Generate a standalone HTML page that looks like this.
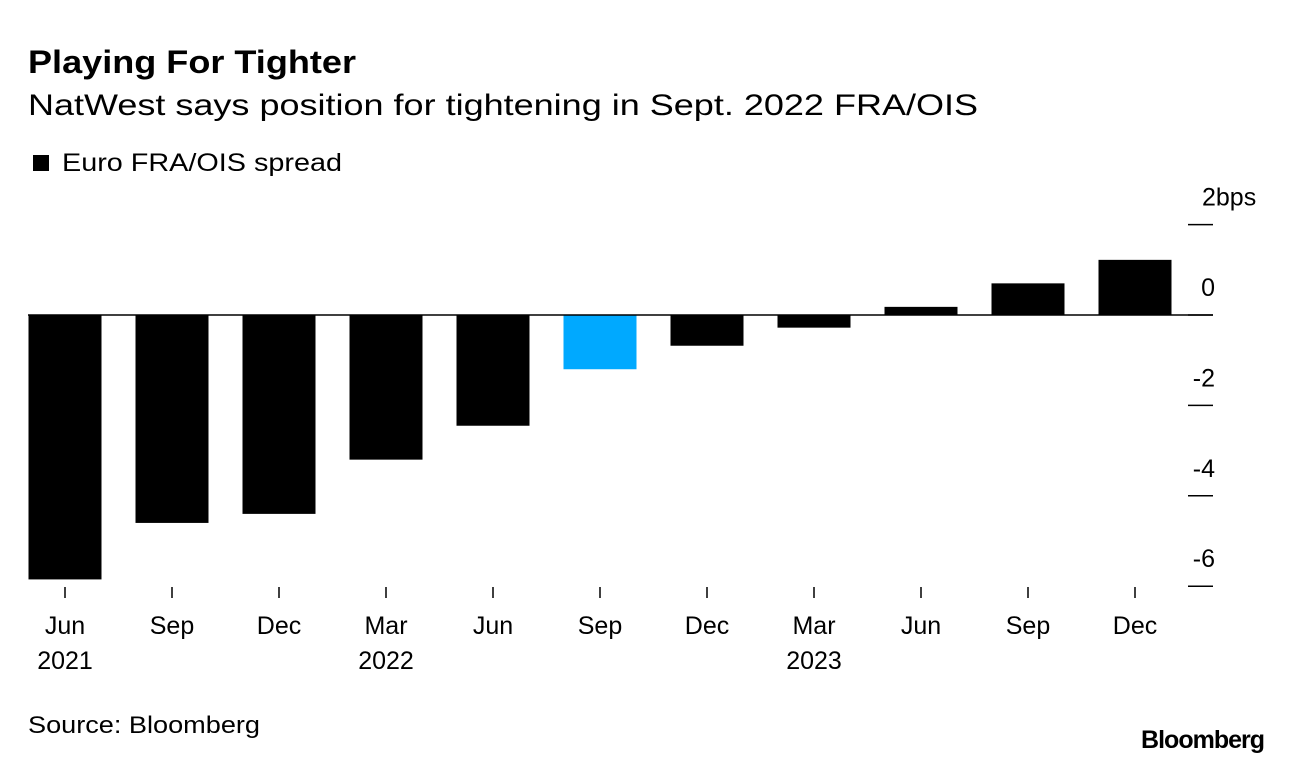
<!DOCTYPE html>
<html><head><meta charset="utf-8"><style>
body{margin:0;background:#fff;width:1292px;height:764px;overflow:hidden;font-family:"Liberation Sans",sans-serif}
</style></head><body>
<svg width="1292" height="764" font-family="Liberation Sans, sans-serif">
<text x="28" y="73" font-size="32" font-weight="bold" fill="#000" textLength="328" lengthAdjust="spacingAndGlyphs">Playing For Tighter</text>
<text x="28" y="115" font-size="30" fill="#000" textLength="950" lengthAdjust="spacingAndGlyphs">NatWest says position for tightening in Sept. 2022 FRA/OIS</text>
<rect x="33" y="155" width="16" height="16" fill="#000"/>
<text x="62" y="171" font-size="25" fill="#000" textLength="280" lengthAdjust="spacingAndGlyphs">Euro FRA/OIS spread</text>
<g id="bars"></g><g id="yaxis"></g><g id="xaxis"></g>
<text x="28" y="733" font-size="24" fill="#000" textLength="232" lengthAdjust="spacingAndGlyphs">Source: Bloomberg</text>
<text x="1264" y="748" font-size="25" font-weight="bold" text-anchor="end" fill="#000" letter-spacing="-1">Bloomberg</text>
</svg>
<script>
const categories=["Jun","Sep","Dec","Mar","Jun","Sep","Dec","Mar","Jun","Sep","Dec"];
const years=["2021","","","2022","","","","2023","","",""];
const values=[-5.85,-4.6,-4.4,-3.2,-2.45,-1.2,-0.68,-0.28,0.18,0.7,1.22];
const highlight=[false,false,false,false,false,true,false,false,false,false,false];
const yTicks=[2,0,-2,-4,-6];
const yLabels=["2bps","0","-2","-4","-6"];
const ns="http://www.w3.org/2000/svg";
const y0=315,unit=45.2;
const y=v=>y0-v*unit;
const x=i=>65+i*107;
const bw=73;
function mk(t,a,p){const e=document.createElementNS(ns,t);for(const k in a)e.setAttribute(k,a[k]);p.appendChild(e);return e;}
const gb=document.getElementById('bars'),gy=document.getElementById('yaxis'),gx=document.getElementById('xaxis');
values.forEach((v,i)=>{
 const r=mk('rect',{x:x(i)-bw/2,y:Math.min(y(v),y0),width:bw,height:Math.abs(y(v)-y0),fill:highlight[i]?'#00a9ff':'#000'},gb);
 
 
});
const zl=mk('line',{x1:28,x2:1213,y1:y0,y2:y0,stroke:'#000','stroke-width':1.5},gb);


yTicks.forEach((t,i)=>{
 const l=mk('line',{x1:1188,x2:1213,y1:y(t),y2:y(t),stroke:'#000','stroke-width':1.5},gy);
 
 
 const tx=mk('text',{x:t===2?1202:1215,y:y(t)-19,'font-size':25,'text-anchor':t===2?'start':'end',fill:'#000'},gy);
 tx.textContent=yLabels[i];
 
 
});
categories.forEach((c,i)=>{
 const l=mk('line',{x1:x(i),x2:x(i),y1:587,y2:598,stroke:'#000','stroke-width':1.5},gx);
 
 
 const t=mk('text',{x:x(i),y:634,'font-size':25,'text-anchor':'middle',fill:'#000'},gx);
 t.textContent=c;
 
 
 if(years[i]){const yt=mk('text',{x:x(i),y:669,'font-size':25,'text-anchor':'middle',fill:'#000'},gx);
 yt.textContent=years[i];
 
 }
});
</script>
</body></html>
